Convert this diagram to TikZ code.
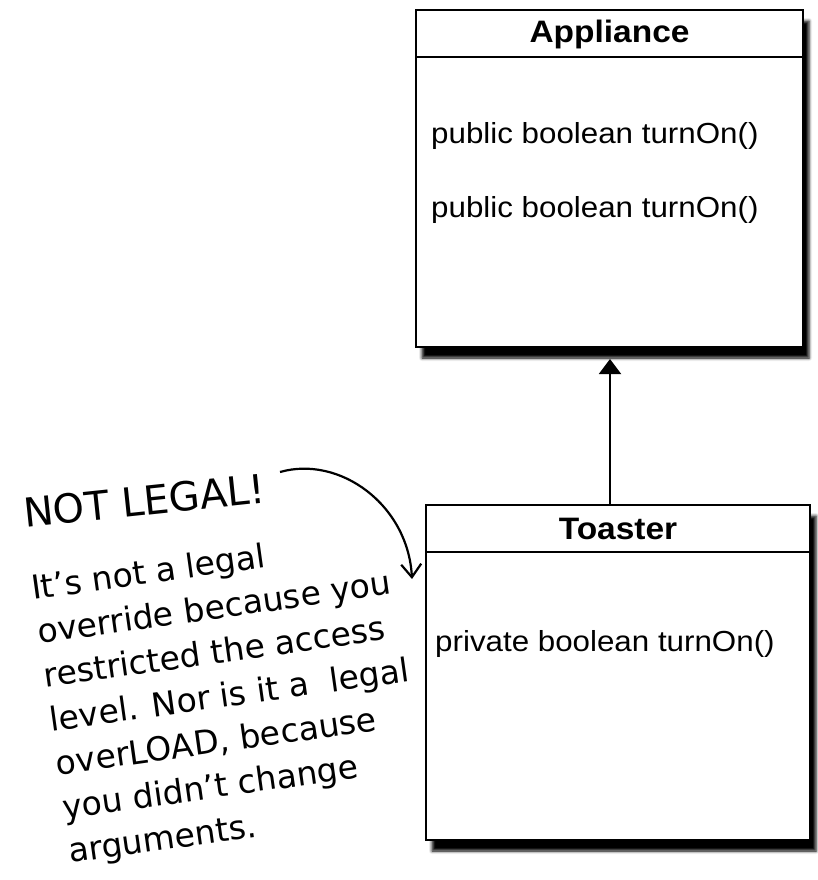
\documentclass[tikz,border=0pt]{standalone}
\usepackage{fontspec}
\newfontfamily\umlfont[FakeStretch=1.08]{Liberation Sans}
\newfontfamily\handfont{DejaVu Sans}
\usetikzlibrary{arrows.meta,shadows.blur,calc}
\tikzset{
  umlbox/.style={draw=black, line width=2pt, fill=white,
    blur shadow={shadow xshift=6pt, shadow yshift=-11pt, shadow blur radius=3pt, shadow opacity=100}},
  umlsep/.style={line width=2pt},
  umltitle/.style={font=\umlfont\bfseries\fontsize{31}{36}\selectfont, inner sep=0pt},
  umlop/.style={font=\umlfont\fontsize{29}{34}\selectfont, inner sep=0pt, anchor=base west},
  hand/.style={font=\handfont\fontsize{33}{44.3}\selectfont, inner sep=0pt, align=left, anchor=base west},
  handbig/.style={font=\handfont\fontsize{40}{48}\selectfont, inner sep=0pt, anchor=base west},
  inherit/.style={line width=2pt, -{Triangle[length=15pt,width=22pt]}},
  notearrow/.style={line width=2.2pt, -{Straight Barb[length=13pt,width=20pt,line width=2.2pt]}}
}
\begin{document}
\begin{tikzpicture}[x=1pt,y=-1pt]
\useasboundingbox (0,0) rectangle (817,880);

% Appliance class
\node[umlbox, minimum width=387pt, minimum height=337pt, inner sep=0pt] (appliance) at (609.5,178.5) {};
\draw[umlsep] ($(appliance.north west)+(0,48)$) -- ($(appliance.north east)+(0,48)$);
\node[umltitle] (apptitle) at (609.5,34) {Appliance};
\node[umlop] (appop1) at (431,143) {public boolean turnOn()};
\node[umlop] (appop2) at (431,217) {public boolean turnOn()};

% Toaster class
\node[umlbox, minimum width=384pt, minimum height=335pt, inner sep=0pt] (toaster) at (618,672.5) {};
\draw[umlsep] ($(toaster.north west)+(0,48)$) -- ($(toaster.north east)+(0,48)$);
\node[umltitle] (toastitle) at (618,529) {Toaster};
\node[umlop] (toastop) at (435,651) {private boolean turnOn()};

% inheritance
\coordinate (ax) at (610,0);
\draw[inherit] (toaster.north -| ax) -- ($(appliance.south -| ax)+(0,11)$);

% handwritten note
\node[handbig, rotate=6] (notlegal) at (25,528) {NOT LEGAL!};
\node[hand, rotate=8] (note) at (70,863) {It’s not a legal\\override because you\\restricted the access\\level. Nor is it a \ legal\\overLOAD, because\\you didn’t change\\arguments.};

\coordinate (ncs) at (280,472);
\coordinate (nce) at (412,579);
\draw[notearrow] (ncs) .. controls (340,455) and (408,505) .. (nce);
\end{tikzpicture}
\end{document}
